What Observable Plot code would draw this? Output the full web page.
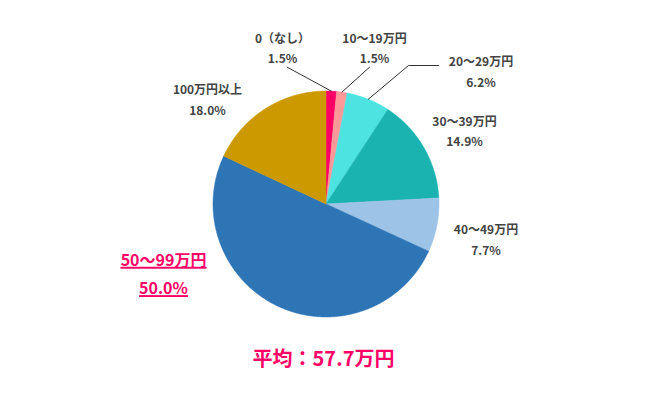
<!DOCTYPE html>
<html>
<head>
<meta charset="utf-8">
<script src="https://cdn.jsdelivr.net/npm/d3@7"></script>
<script src="https://cdn.jsdelivr.net/npm/@observablehq/plot@0.6"></script>
<style>
  body { margin: 0; background: #fff; }
  svg { font-family: "Noto Sans CJK JP", "Noto Sans", sans-serif; }
</style>
</head>
<body>
<div id="chart"></div>
<script>
// ---- data ----
const categories = ["0（なし）", "10～19万円", "20～29万円", "30～39万円", "40～49万円", "50～99万円", "100万円以上"];
const percents = [1.5, 1.5, 6.2, 14.9, 7.7, 50.0, 18.0];
const sliceColors = ["#ff0066", "#ff9999", "#4de3e0", "#1bb3b0", "#9dc3e6", "#2e75b6", "#cc9900"];
const averageLabel = "平均：57.7万円";
const highlightIndex = 5;

// ---- layout (pixels) ----
const W = 650, H = 400;
const cx = 325.5, cy = 203.5, R = 113;
// label block centres relative to pie centre (px, y down)
const labelOffsets = [[-43.5, -157.5], [48.5, -157.5], [155, -134], [138.5, -74.5], [160, 34], [-162.5, 67], [-118.5, -106]];
// leader line elbows relative to pie centre (px, y down)
const leaderPoints = {0: [[-38.8, -136.8]], 1: [[43.5, -136.8]], 2: [[82.5, -138.5], [112.5, -138.5]]};

const toX = px => px / R;      // px offset -> data units
const toY = py => -py / R;

const arcs = d3.pie().sort(null).value(d => d)(percents);

function slicePoints(a) {
  const pts = [{x: 0, y: 0}];
  const n = Math.max(2, Math.ceil((a.endAngle - a.startAngle) / 0.005));
  for (let i = 0; i <= n; i++) {
    const t = a.startAngle + (a.endAngle - a.startAngle) * i / n;
    pts.push({x: Math.sin(t), y: Math.cos(t)});
  }
  pts.push({x: 0, y: 0});
  return pts;
}

const sliceMarks = arcs.map((a, i) =>
  Plot.line(slicePoints(a), {x: "x", y: "y", fill: sliceColors[i], stroke: sliceColors[i], strokeWidth: 0.5, curve: "linear"})
);

const leaderMarks = Object.entries(leaderPoints).map(([k, pts]) => {
  const a = arcs[+k];
  const mid = (a.startAngle + a.endAngle) / 2;
  const line = [{x: Math.sin(mid), y: Math.cos(mid)}, ...pts.map(([px, py]) => ({x: toX(px), y: toY(py)}))];
  return Plot.line(line, {x: "x", y: "y", stroke: "#333", strokeWidth: 1});
});

const labels = categories.map((c, i) => ({
  text: c + "\n" + percents[i].toFixed(1) + "%",
  x: toX(labelOffsets[i][0]),
  y: toY(labelOffsets[i][1]),
  hi: i === highlightIndex
}));

const chart = Plot.plot({
  width: W, height: H,
  margin: 0,
  x: {domain: [toX(-cx), toX(W - cx)], axis: null},
  y: {domain: [toY(H - cy), toY(-cy)], axis: null},
  style: {background: "#fff"},
  marks: [
    ...sliceMarks,
    ...leaderMarks,
    Plot.text(labels.filter(d => !d.hi), {x: "x", y: "y", text: "text", fontSize: 12, fontWeight: "bold", fill: "#444", lineHeight: 1.72}),
    Plot.text(labels.filter(d => d.hi), {x: "x", y: "y", text: "text", fontSize: 16, fontWeight: "bold", fill: "#ff0066", lineHeight: 1.78}),
    Plot.text([averageLabel], {x: toX(-2.5), y: toY(155.5), text: d => d, fontSize: 20, fontWeight: "bold", fill: "#ff0066"})
  ]
});

d3.select(chart).selectAll("text").filter(function() {
  return this.getAttribute("fill") === "#ff0066" || d3.select(this.parentNode).attr("fill") === "#ff0066";
}).each(function() {
  const t = d3.select(this).text();
  if (t.includes("50～99") || t.includes("50.0%")) {
    d3.select(this).style("text-decoration", "underline").selectAll("tspan").style("text-decoration", "underline");
  }
});

document.getElementById("chart").appendChild(chart);
</script>
</body>
</html>
